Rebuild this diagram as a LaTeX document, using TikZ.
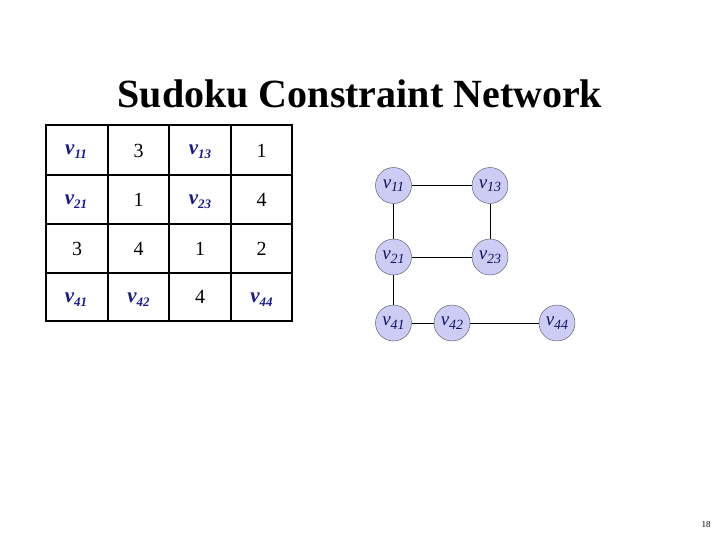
\documentclass[tikz,border=0pt]{standalone}
\usepackage{fontspec}
\setmainfont{Liberation Serif}
\usepackage{xcolor}
\usetikzlibrary{positioning, calc}
\definecolor{varblue}{rgb}{0.1,0.1,0.55}
\definecolor{nodefill}{rgb}{0.8,0.8,0.96}
\definecolor{nodeline}{rgb}{0.3,0.3,0.35}

% cell variable label and graph variable label
\newcommand{\cellvar}[1]{{\bfseries\itshape v\raisebox{-0.45ex}{\fontsize{13}{13}\selectfont #1}}}
\newcommand{\nodevar}[1]{{\itshape v\raisebox{-0.4ex}{\fontsize{14}{14}\selectfont #1}}}

\tikzset{
  cellnum/.style={font=\fontsize{20}{20}\selectfont, text=black},
  cellv/.style={font=\fontsize{21}{21}\selectfont, text=varblue},
  varnode/.style={circle, draw=nodeline, fill=nodefill, thin, minimum size=36pt,
    inner sep=0pt, font=\fontsize{19}{19}\selectfont, text=varblue!70!black},
  gridline/.style={line width=2.2pt, black}
}

\begin{document}
\begin{tikzpicture}[x=1pt, y=-1pt]
      \useasboundingbox (0,0) rectangle (720,540);

      \node [font=\fontsize{40}{40}\selectfont\bfseries] (title) at (360,94) {Sudoku Constraint Network};

      % the 4x4 board
      \draw [gridline] (46,125) rectangle (292,321);
      \foreach \x in {108,169,231} \draw [gridline] (\x,125) -- (\x,321);
      \foreach \y in {175,224,273} \draw [gridline] (46,\y) -- (292,\y);

      \node [cellv] (c11) at (76,152) {\cellvar{11}};
      \node [cellnum] (c12) at (138.5,151) {3};
      \node [cellv] (c13) at (200,152) {\cellvar{13}};
      \node [cellnum] (c14) at (261.5,151) {1};

      \node [cellv] (c21) at (76,202) {\cellvar{21}};
      \node [cellnum] (c22) at (138.5,200) {1};
      \node [cellv] (c23) at (200,202) {\cellvar{23}};
      \node [cellnum] (c24) at (261.5,200) {4};

      \node [cellnum] (c31) at (77,249) {3};
      \node [cellnum] (c32) at (138.5,249) {4};
      \node [cellnum] (c33) at (200,249) {1};
      \node [cellnum] (c34) at (261.5,249) {2};

      \node [cellv] (c41) at (76,300) {\cellvar{41}};
      \node [cellv] (c42) at (138.5,300) {\cellvar{42}};
      \node [cellnum] (c43) at (200,297) {4};
      \node [cellv] (c44) at (261.5,300) {\cellvar{44}};

      % constraint graph
      \node [varnode] (v11) at (393.5,185.5) {\nodevar{11}};
      \node [varnode] (v13) at (490,185.5) {\nodevar{13}};
      \node [varnode] (v21) at (393.5,257) {\nodevar{21}};
      \node [varnode] (v23) at (490,257) {\nodevar{23}};
      \node [varnode] (v41) at (393.5,323) {\nodevar{41}};
      \node [varnode] (v42) at (452,323) {\nodevar{42}};
      \node [varnode] (v44) at (557,323) {\nodevar{44}};

      \draw (v11) -- (v13);
      \draw (v11) -- (v21);
      \draw (v13) -- (v23);
      \draw (v21) -- (v23);
      \draw (v21) -- (v41);
      \draw (v41) -- (v42);
      \draw (v42) -- (v44);

      \node [font=\fontsize{9}{9}\selectfont] (page) at (706,525) {18};
\end{tikzpicture}
\end{document}
